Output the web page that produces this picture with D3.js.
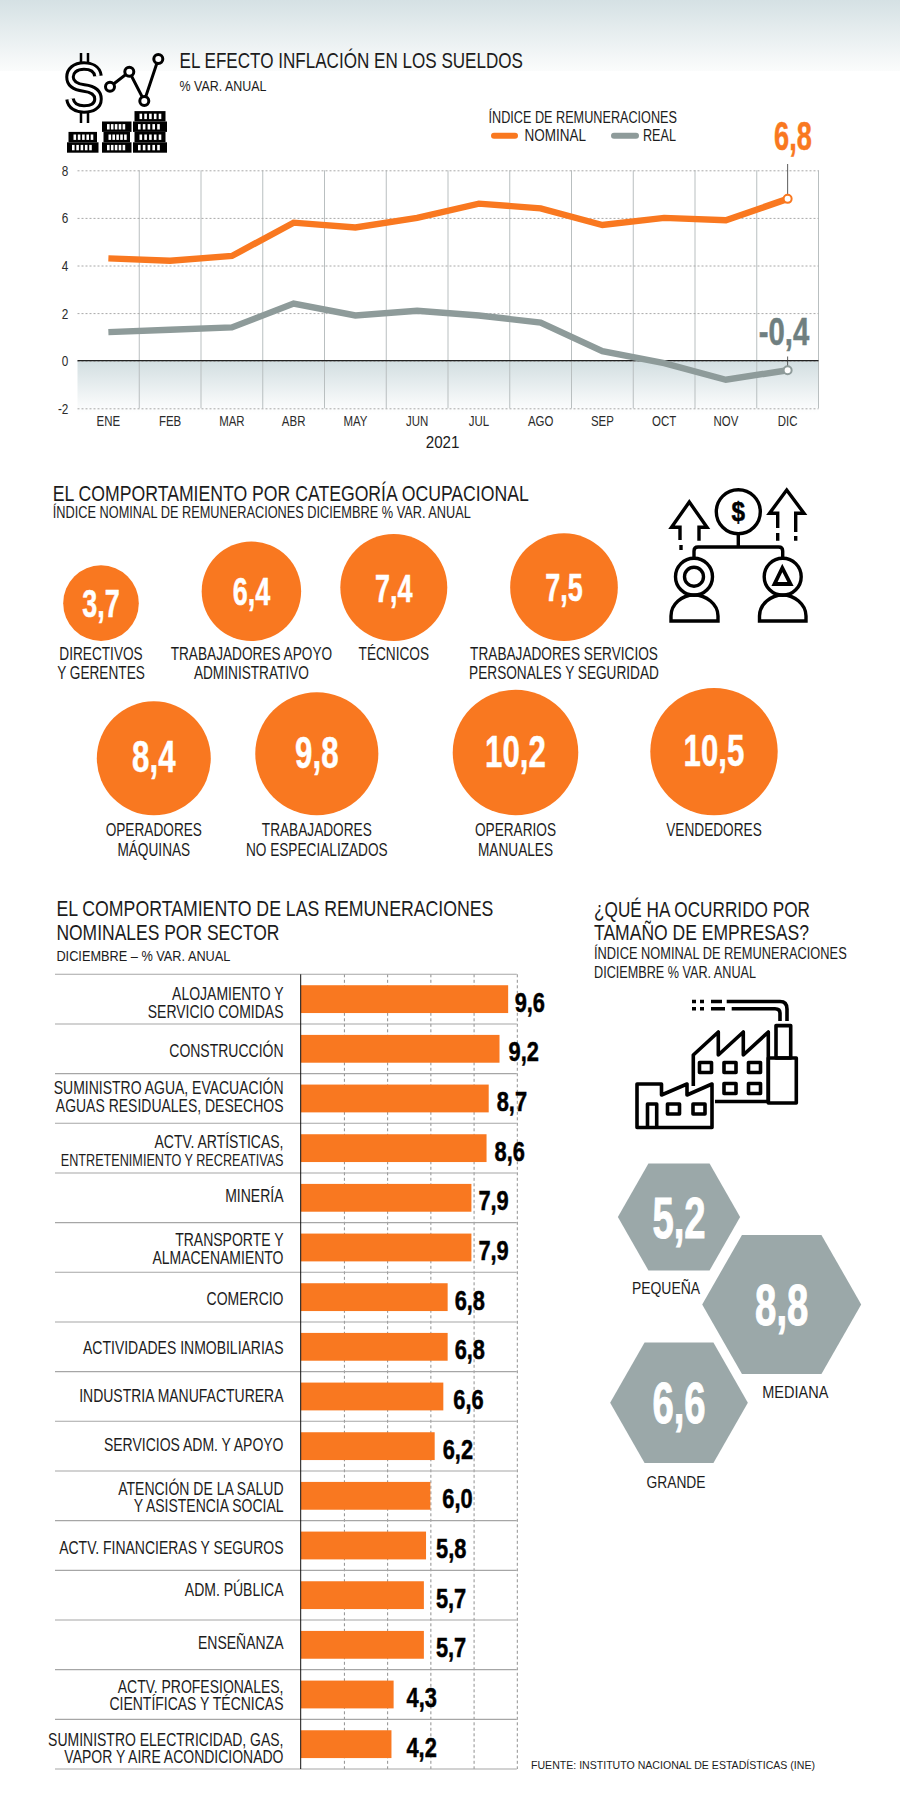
<!DOCTYPE html>
<html>
<head>
<meta charset="utf-8">
<script src="https://cdn.jsdelivr.net/npm/d3@7"></script>
<style>
  body { margin: 0; background: #fff; }
  svg { display: block; }
  text { font-family: "Liberation Sans", sans-serif; fill: #1c1c1c; }
  .axis text { fill: #2b2b2b; font-size: 15.5px; }
  .axis .domain { display: none; }
</style>
</head>
<body>
<div id="body"></div>
<script>
// datos
const months = ["ENE", "FEB", "MAR", "ABR", "MAY", "JUN", "JUL", "AGO", "SEP", "OCT", "NOV", "DIC"];
const nominal = [4.3, 4.2, 4.4, 5.8, 5.6, 6.0, 6.6, 6.4, 5.7, 6.0, 5.9, 6.8];
const real = [1.2, 1.3, 1.4, 2.4, 1.9, 2.1, 1.9, 1.6, 0.4, -0.1, -0.8, -0.4];
const yTicks = [-2, 0, 2, 4, 6, 8];

const occupations = [
  "DIRECTIVOS|Y GERENTES", "TRABAJADORES APOYO|ADMINISTRATIVO", "TÉCNICOS",
  "TRABAJADORES SERVICIOS|PERSONALES Y SEGURIDAD",
  "OPERADORES|MÁQUINAS", "TRABAJADORES|NO ESPECIALIZADOS", "OPERARIOS|MANUALES", "VENDEDORES"
];
const occupationValues = [3.7, 6.4, 7.4, 7.5, 8.4, 9.8, 10.2, 10.5];

const sectors = [
  "ALOJAMIENTO Y|SERVICIO COMIDAS", "CONSTRUCCIÓN", "SUMINISTRO AGUA, EVACUACIÓN|AGUAS RESIDUALES, DESECHOS",
  "ACTV. ARTÍSTICAS,|ENTRETENIMIENTO Y RECREATIVAS", "MINERÍA", "TRANSPORTE Y|ALMACENAMIENTO", "COMERCIO",
  "ACTIVIDADES INMOBILIARIAS", "INDUSTRIA MANUFACTURERA", "SERVICIOS ADM. Y APOYO",
  "ATENCIÓN DE LA SALUD|Y ASISTENCIA SOCIAL", "ACTV. FINANCIERAS Y SEGUROS", "ADM. PÚBLICA", "ENSEÑANZA",
  "ACTV. PROFESIONALES,|CIENTÍFICAS Y TÉCNICAS", "SUMINISTRO ELECTRICIDAD, GAS,|VAPOR Y AIRE ACONDICIONADO"
];
const sectorValues = [9.6, 9.2, 8.7, 8.6, 7.9, 7.9, 6.8, 6.8, 6.6, 6.2, 6.0, 5.8, 5.7, 5.7, 4.3, 4.2];
const sectorTicks = [0, 2, 4, 6, 8, 10];

const sizes = ["PEQUEÑA", "MEDIANA", "GRANDE"];
const sizeValues = [5.2, 8.8, 6.6];

// estilos y layout
const ORANGE = "#f97820", GREY = "#8e9b9a", DARK_GREY = "#6f7f80", HEX = "#9ba8a9";
const fmt = d3.formatLocale({ decimal: ",", thousands: ".", grouping: [3], currency: ["", ""], minus: "-" }).format(".1f");

const svg = d3.select("#body").append("svg").attr("width", 900).attr("height", 1820);
const defs = svg.append("defs");

function vGrad(id, c1, c2) {
  const g = defs.append("linearGradient").attr("id", id).attr("x1", 0).attr("y1", 0).attr("x2", 0).attr("y2", 1);
  g.append("stop").attr("offset", 0).attr("stop-color", c1);
  g.append("stop").attr("offset", 1).attr("stop-color", c2);
}
vGrad("topGrad", "#d5e1e4", "#fbfcfc");
vGrad("negGrad", "#d2dee1", "#ffffff");

svg.append("rect").attr("width", 900).attr("height", 71).attr("fill", "url(#topGrad)");

// no hay fuente condensada instalada: se angosta con scale o textLength
function label(x, y, str, size, opts = {}) {
  const t = svg.append("text").text(str).attr("font-size", size)
    .attr("text-anchor", opts.anchor || "start");
  if (opts.width) {
    t.attr("x", x).attr("y", y).attr("textLength", opts.width).attr("lengthAdjust", "spacingAndGlyphs");
  } else {
    t.attr("transform", `translate(${x},${y}) scale(${opts.sx || 1},1)`);
  }
  if (opts.fill) t.style("fill", opts.fill);
  return t;
}
function bigNumber(parent, x, y, str, size, sx, fill) {
  return parent.append("text").attr("transform", `translate(${x},${y}) scale(${sx},1)`)
    .attr("text-anchor", "middle").attr("font-weight", 700).attr("font-size", size)
    .attr("stroke", fill).attr("stroke-width", size > 50 ? 1 : 0.5)
    .style("fill", fill).text(str);
}

// ---- grafico de lineas
const plot = { left: 77.5, right: 818.5, top: 170.3, bottom: 408.3 };
const xLine = d3.scaleBand().domain(months).range([plot.left, plot.right]);
const yLine = d3.scaleLinear().domain([-2, 8]).range([plot.bottom, plot.top]);
const xMid = (m) => xLine(m) + xLine.bandwidth() / 2;

svg.append("rect").attr("x", plot.left).attr("y", yLine(0)).attr("width", plot.right - plot.left)
  .attr("height", 413 - yLine(0)).attr("fill", "url(#negGrad)");

svg.append("g").selectAll("line").data(months).join("line")
  .attr("x1", (d, i) => plot.left + (i + 1) * xLine.step())
  .attr("x2", (d, i) => plot.left + (i + 1) * xLine.step())
  .attr("y1", plot.top).attr("y2", plot.bottom).attr("stroke", "#b9bfc0").attr("stroke-width", 1);

const yAxisG = svg.append("g").attr("class", "axis").attr("transform", `translate(${plot.left},0)`)
  .call(d3.axisLeft(yLine).tickValues(yTicks).tickSize(plot.left - plot.right).tickPadding(9).tickFormat((d) => d));
yAxisG.selectAll("line").attr("stroke", "#a8a8a8").attr("stroke-dasharray", "2 2");
yAxisG.selectAll("text").attr("x", -12).attr("transform", "scale(0.76,1)");

svg.append("line").attr("x1", plot.left).attr("x2", plot.right).attr("y1", yLine(0)).attr("y2", yLine(0))
  .attr("stroke", "#222").attr("stroke-width", 1.3);

const xAxisG = svg.append("g").attr("class", "axis").attr("transform", `translate(0,${plot.bottom})`)
  .call(d3.axisBottom(xLine).tickSize(0).tickPadding(7));
xAxisG.selectAll("text").attr("transform", "scale(0.74,1)");
label(442.6, 447.7, "2021", 16.5, { anchor: "middle", sx: 0.92 });

const lineGen = d3.line().x((d, i) => xMid(months[i])).y((d) => yLine(d));
[[real, GREY], [nominal, ORANGE]].forEach(([series, color]) => {
  svg.append("path").datum(series).attr("d", lineGen).attr("fill", "none")
    .attr("stroke", color).attr("stroke-width", 6.4);
});

// destacados de diciembre
const last = months[months.length - 1];
const lastN = nominal[nominal.length - 1], lastR = real[real.length - 1];
svg.append("line").attr("x1", xMid(last)).attr("x2", xMid(last)).attr("y1", 164).attr("y2", yLine(lastN))
  .attr("stroke", "#333").attr("stroke-width", 0.8);
svg.append("line").attr("x1", xMid(last)).attr("x2", xMid(last)).attr("y1", 356.5).attr("y2", yLine(lastR))
  .attr("stroke", "#333").attr("stroke-width", 0.8);
[[lastN, ORANGE], [lastR, GREY]].forEach(([v, c]) => {
  svg.append("circle").attr("cx", xMid(last)).attr("cy", yLine(v)).attr("r", 4)
    .attr("fill", "#fff").attr("stroke", c).attr("stroke-width", 2);
});
bigNumber(svg, 793, 150, fmt(lastN), 40, 0.68, ORANGE);
bigNumber(svg, 784, 345, fmt(lastR), 38, 0.77, DARK_GREY);

label(179.5, 68.3, "EL EFECTO INFLACIÓN EN LOS SUELDOS", 22.5, { width: 343.5 });
label(179.5, 90.7, "% VAR. ANUAL", 15, { width: 87 });
label(488.5, 123, "ÍNDICE DE REMUNERACIONES", 16, { width: 188.5 });
label(524.6, 141.3, "NOMINAL", 16, { width: 61.5 });
label(643, 141.3, "REAL", 16, { width: 33 });
svg.append("line").attr("x1", 494).attr("x2", 515).attr("y1", 135.7).attr("y2", 135.7)
  .attr("stroke", ORANGE).attr("stroke-width", 6).attr("stroke-linecap", "round");
svg.append("line").attr("x1", 614).attr("x2", 636).attr("y1", 135.7).attr("y2", 135.7)
  .attr("stroke", GREY).attr("stroke-width", 6).attr("stroke-linecap", "round");

// icono dolar + monedas
const ic1 = svg.append("g").attr("fill", "none").attr("stroke", "#000");
const sPath = "M98,76 C97,68 90,66 84,66 C75,66 70,71 70,77 C70,84 76,87 84,88 C92,89 98,92 98,99 C98,106 92,109 84,109 C77,109 71,106 70,99";
ic1.append("path").attr("d", sPath).attr("stroke-width", 9.5);
ic1.append("path").attr("d", sPath).attr("stroke", "#fff").attr("stroke-width", 3.5);
ic1.append("path").attr("d", "M81,53 V64 M88,53 V64 M81,111 V123 M88,111 V123").attr("stroke-width", 2.5);
ic1.append("path").attr("d", "M110,86.7 L129.3,71.7 L144.3,101 L158.3,59").attr("stroke-width", 3);
[[110, 86.7], [129.3, 71.7], [144.3, 101], [158.3, 59]].forEach(([x, y]) => {
  ic1.append("circle").attr("cx", x).attr("cy", y).attr("r", 4.5).attr("fill", "#fff").attr("stroke-width", 3);
});
const stacks = [[67, 98.5, 2], [102, 131.5, 3], [133, 167, 4]];
stacks.forEach(([x0, x1, n]) => {
  for (let k = 0; k < n; k++) {
    const yy = 152.7 - (k + 1) * 10.4;
    const off = k % 2 ? 1.5 : 0;
    svg.append("rect").attr("x", x0 + off).attr("y", yy).attr("width", x1 - x0 - off * 2).attr("height", 10.4).attr("fill", "#000");
    for (let j = 0; j < 5; j++) {
      svg.append("rect").attr("x", x0 + off + 5 + j * ((x1 - x0 - 10) / 5)).attr("y", yy + 2.6)
        .attr("width", 2.6).attr("height", 5.4).attr("fill", "#fff");
    }
  }
});

// ---- categoria ocupacional
label(52.8, 500.7, "EL COMPORTAMIENTO POR CATEGORÍA OCUPACIONAL", 22.5, { width: 476 });
label(52.8, 518.3, "ÍNDICE NOMINAL DE REMUNERACIONES DICIEMBRE % VAR. ANUAL", 16, { width: 418 });

const rCircle = d3.scaleSqrt().domain([0, 10.5]).range([0, 63.7]);
const xCircle = d3.scaleOrdinal().domain(occupations).range([101, 251.4, 393.8, 564, 153.8, 316.8, 515.5, 714]);
const rowBottom = (i) => (i < 4 ? 641 : 815.3);

occupations.forEach((name, i) => {
  const v = occupationValues[i], r = rCircle(v), cx = xCircle(name), cy = rowBottom(i) - r;
  svg.append("circle").attr("cx", cx).attr("cy", cy).attr("r", r).attr("fill", ORANGE);
  const big = i >= 4;
  bigNumber(svg, cx, cy + 14, fmt(v), big ? 44 : 38, 0.71, "#fff");
  name.split("|").forEach((ln, j) => {
    label(cx, (big ? 836 : 659.7) + j * 19.6, ln, 17.5, { anchor: "middle", sx: 0.78 });
  });
});

// icono personas
const ic2 = svg.append("g").attr("fill", "none").attr("stroke", "#000").attr("stroke-width", 3.4);
ic2.append("circle").attr("cx", 738.3).attr("cy", 511.7).attr("r", 22);
ic2.append("path").attr("d", "M738.3,533.7 V547 M694,557 V551 Q694,547 698,547 H778.7 Q782.7,547 782.7,551 V557");
ic2.append("circle").attr("cx", 694).attr("cy", 576.7).attr("r", 18.5);
ic2.append("circle").attr("cx", 694).attr("cy", 576.7).attr("r", 9.5);
ic2.append("circle").attr("cx", 782.7).attr("cy", 576.7).attr("r", 18.5);
ic2.append("path").attr("d", "M782.3,568 L774.5,584 H790.5 Z").attr("stroke-width", 3.8);
ic2.append("path").attr("d", "M671,621 V616 C671,604 682,595 694,595 C706,595 718,604 718,616 V621 Z");
ic2.append("path").attr("d", "M759.5,621 V616 C759.5,604 771,595 782.7,595 C794,595 806,604 806,616 V621 Z");
ic2.append("path").attr("d", "M680,540 V527.3 H671.5 L689.3,502 L707,527.3 H699 V540.7");
ic2.append("path").attr("d", "M681,545 V550");
ic2.append("path").attr("d", "M777.7,528 V513.3 H769.5 L786.7,490 L804,513.3 H795.7 V532 M777.7,533 V540.7 M795.7,536 V540.7");
bigNumber(svg, 738.3, 521, "$", 27, 0.9, "#000");

// ---- sectores
label(56.4, 916, "EL COMPORTAMIENTO DE LAS REMUNERACIONES", 22.5, { width: 437 });
label(56.4, 940.3, "NOMINALES POR SECTOR", 22.5, { width: 223 });
label(56.4, 961, "DICIEMBRE –  % VAR. ANUAL", 15.5, { width: 174 });

const barX = d3.scaleLinear().domain([0, 10]).range([300.7, 516.8]);
const barY = d3.scaleBand().domain(sectors).range([974.3, 1769]).paddingInner(0.44).paddingOuter(0.22);
// ajuste vertical de las etiquetas, fila por fila
const sectorLabelDy = [1, 8, -4, 0, 4.5, -1, 8, 7.5, 5.5, 4.6, -1, 8.7, 1, 4, -1.6, 1.7];
// separacion valor-barra
const sectorValueGap = [6.5, 9, 8, 8, 7, 7, 7, 7, 10, 8, 12, 10, 12, 12, 13, 15];

const gridG = svg.append("g").attr("transform", "translate(0,974.3)")
  .call(d3.axisBottom(barX).tickValues(sectorTicks.slice(1)).tickSize(1769 - 974.3).tickFormat(""));
gridG.select(".domain").remove();
gridG.selectAll("line").attr("stroke", "#8f8f8f").attr("stroke-dasharray", "3 2.5");

svg.append("g").selectAll("line").data(d3.range(sectors.length + 1)).join("line")
  .attr("x1", 55).attr("x2", barX(10))
  .attr("y1", (d) => 974.3 + d * barY.step()).attr("y2", (d) => 974.3 + d * barY.step())
  .attr("stroke", "#a6a6a6").attr("stroke-width", 1.1);

svg.append("g").selectAll("rect").data(sectors).join("rect")
  .attr("x", barX(0)).attr("y", (d) => barY(d))
  .attr("width", (d, i) => barX(sectorValues[i]) - barX(0)).attr("height", barY.bandwidth())
  .attr("fill", ORANGE);

svg.append("line").attr("x1", barX(0)).attr("x2", barX(0)).attr("y1", 974.3).attr("y2", 1769)
  .attr("stroke", "#111").attr("stroke-width", 1);

sectors.forEach((name, i) => {
  const v = sectorValues[i];
  const mid = 974.3 + (i + 0.5) * barY.step();
  name.split("|").forEach((ln, j) => {
    const small = ln.startsWith("ENTRETENIMIENTO");
    label(283.5, mid + sectorLabelDy[i] + j * 17.5, ln, small ? 16 : 17.5, { anchor: "end", sx: small ? 0.79 : 0.8 });
  });
  bigNumber(svg, barX(v) + sectorValueGap[i], barY(name) + barY.bandwidth() - 1.5, fmt(v), 28, 0.78, "#000")
    .attr("text-anchor", "start");
});

label(531, 1769, "FUENTE: INSTITUTO NACIONAL DE ESTADÍSTICAS (INE)", 11, { width: 284 });

// ---- tamano de empresas
label(594, 916.7, "¿QUÉ HA OCURRIDO POR", 22.5, { width: 216 });
label(594, 940.3, "TAMAÑO DE EMPRESAS?", 22.5, { width: 215 });
label(594, 959, "ÍNDICE NOMINAL DE REMUNERACIONES", 16, { width: 252.7 });
label(594, 978, "DICIEMBRE % VAR. ANUAL", 16, { width: 162 });

const rHex = d3.scaleSqrt().domain([0, 8.8]).range([0, 79.5]);
const xHex = d3.scaleOrdinal().domain(sizes).range([679, 781.7, 679]);
const yHex = d3.scaleOrdinal().domain(sizes).range([1217, 1304.5, 1402.7]);
const xHexLabel = d3.scaleOrdinal().domain(sizes).range([632, 762.3, 646.5]);
const yHexLabel = d3.scaleOrdinal().domain(sizes).range([1293.5, 1397.7, 1487.6]);
const hexLabelWidth = d3.scaleOrdinal().domain(sizes).range([68, 66, 59]);
const hexLine = d3.line().curve(d3.curveLinearClosed);

sizes.forEach((name, i) => {
  const R = rHex(sizeValues[i]), h = R * 0.875, cx = xHex(name), cy = yHex(name);
  svg.append("path").attr("fill", HEX).attr("d", hexLine([
    [cx - R, cy], [cx - R / 2, cy - h], [cx + R / 2, cy - h], [cx + R, cy], [cx + R / 2, cy + h], [cx - R / 2, cy + h]
  ]));
  bigNumber(svg, cx, cy + 20.5, fmt(sizeValues[i]), 58, 0.66, "#fff");
  label(xHexLabel(name), yHexLabel(name), name, 16, { width: hexLabelWidth(name) });
});

// icono fabrica
const ic3 = svg.append("g").attr("fill", "none").attr("stroke", "#000").attr("stroke-width", 3.6).attr("stroke-linejoin", "round");
ic3.append("path").attr("d", "M693.3,1086 V1055 L718.3,1032 V1055 L743.3,1032 V1055 L768.3,1032 V1101.5 H715");
ic3.append("rect").attr("x", 768.3).attr("y", 1058).attr("width", 28).attr("height", 45);
ic3.append("rect").attr("x", 776).attr("y", 1025.6).attr("width", 14.7).attr("height", 32.4);
ic3.append("path").attr("d", "M787,1021 V1009 Q787,1001.5 780,1001.5 H726.7 M780,1021 V1013 Q780,1008.7 775,1008.7 H731.7");
ic3.append("path").attr("d", "M711,1001.5 H722 M711,1008.7 H725 M692,1001.5 H696 M692,1008.7 H696 M700,1001.5 H704 M700,1008.7 H704");
ic3.append("path").attr("d", "M637,1084 H661.5 V1095 L687,1084 V1095 L712,1084 V1127.5 H637 Z").attr("fill", "#fff");
ic3.append("path").attr("d", "M647.5,1127.5 V1104 H656.7 V1127.5");
[[699.5, 1062.5], [724, 1062.5], [748.5, 1062.5], [724, 1083.5], [748.5, 1083.5], [667.5, 1104], [693, 1104]].forEach(([x, y]) => {
  ic3.append("rect").attr("x", x).attr("y", y).attr("width", 12).attr("height", 10);
});
</script>
</body>
</html>
